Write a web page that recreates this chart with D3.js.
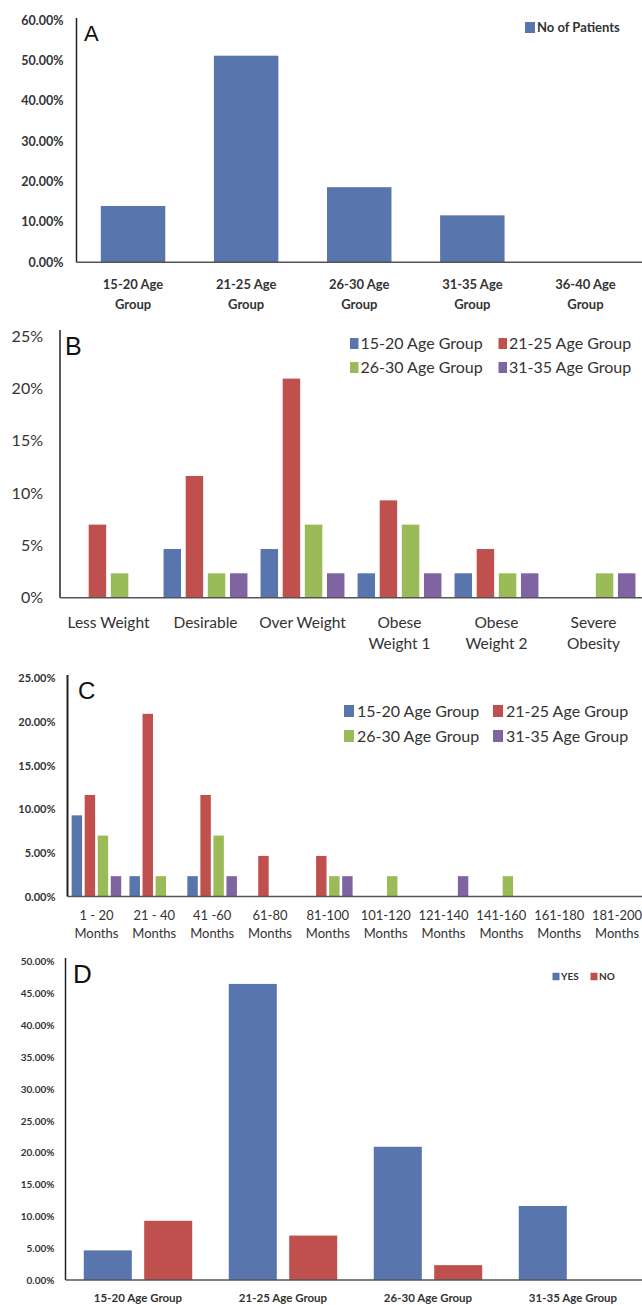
<!DOCTYPE html>
<html>
<head>
<meta charset="utf-8">
<script src="https://cdn.jsdelivr.net/npm/d3@7"></script>
<style>
  html, body { margin: 0; padding: 0; background: #fff; }
  svg { display: block; }
  text { font-family: Lato, "Open Sans", "Liberation Sans", sans-serif; fill: #333; }
  .panel-letter { font-family: "Liberation Sans", Arial, sans-serif; fill: #111; }
</style>
</head>
<body>
<svg id="chart" width="642" height="1305"></svg>
<script>
// ---- Panel A: share of patients per age group ----
const ageGroupsA = ["15-20 Age|Group", "21-25 Age|Group", "26-30 Age|Group", "31-35 Age|Group", "36-40 Age|Group"];
const patientsA = [13.95, 51.16, 18.60, 11.63, 0];
const ticksA = [0, 10, 20, 30, 40, 50, 60];

// ---- Panel B: BMI class by age group ----
const bmiClassesB = ["Less Weight", "Desirable", "Over Weight", "Obese|Weight 1", "Obese|Weight 2", "Severe|Obesity"];
const seriesNames = ["15-20 Age Group", "21-25 Age Group", "26-30 Age Group", "31-35 Age Group"];
const bmi1520 = [0, 4.65, 4.65, 2.33, 2.33, 0];
const bmi2125 = [6.98, 11.63, 20.93, 9.30, 4.65, 0];
const bmi2630 = [2.33, 2.33, 6.98, 6.98, 2.33, 2.33];
const bmi3135 = [0, 2.33, 2.33, 2.33, 2.33, 2.33];
const ticksB = [0, 5, 10, 15, 20, 25];

// ---- Panel C: duration in months by age group ----
const monthsC = ["1 - 20|Months", "21 - 40|Months", "41 -60|Months", "61-80|Months", "81-100|Months",
                 "101-120|Months", "121-140|Months", "141-160|Months", "161-180|Months", "181-200|Months"];
const dur1520 = [9.30, 2.33, 2.33, 0, 0, 0, 0, 0, 0, 0];
const dur2125 = [11.63, 20.93, 11.63, 4.65, 4.65, 0, 0, 0, 0, 0];
const dur2630 = [6.98, 2.33, 6.98, 0, 2.33, 2.33, 0, 2.33, 0, 0];
const dur3135 = [2.33, 0, 2.33, 0, 2.33, 0, 2.33, 0, 0, 0];
const ticksC = [0, 5, 10, 15, 20, 25];

// ---- Panel D: yes / no by age group ----
const ageGroupsD = ["15-20 Age Group", "21-25 Age Group", "26-30 Age Group", "31-35 Age Group"];
const yesD = [4.65, 46.51, 20.93, 11.63];
const noD = [9.30, 6.98, 2.33, 0];
const ticksD = [0, 5, 10, 15, 20, 25, 30, 35, 40, 45, 50];

const palette = ["#5875ad", "#c0504d", "#9bbb59", "#8064a2"];

const svg = d3.select("#chart");

function drawPanel(cfg) {
  const g = svg.append("g");
  const x = d3.scaleBand().domain(cfg.categories).range([cfg.x0, cfg.x1])
    .paddingInner(cfg.groupPad).paddingOuter(cfg.groupPad / 2);
  const sub = d3.scaleBand().domain(d3.range(cfg.series.length)).range([0, x.bandwidth()])
    .paddingInner(cfg.seriesPad);
  const y = d3.scaleLinear().domain([0, cfg.max]).range([cfg.yBase, cfg.yTop]);

  // bars
  cfg.series.forEach((vals, si) => {
    g.append("g").selectAll("rect")
      .data(vals.map((v, i) => ({ v, c: cfg.categories[i] })).filter(d => d.v > 0))
      .join("rect")
      .attr("x", d => x(d.c) + sub(si))
      .attr("width", sub.bandwidth())
      .attr("y", d => y(d.v))
      .attr("height", d => y(0) - y(d.v))
      .attr("fill", cfg.colors[si]);
  });

  // y axis
  const ya = g.append("g").attr("transform", `translate(${cfg.x0},0)`)
    .call(d3.axisLeft(y).tickValues(cfg.ticks).tickFormat(cfg.fmt).tickSize(0).tickPadding(cfg.yPad));
  ya.select(".domain").attr("stroke", "#222").attr("stroke-width", cfg.axisW)
    .attr("d", `M0,${cfg.axisTop}V${y(0)}`);
  ya.selectAll("text").attr("font-size", cfg.tickFont).attr("fill", cfg.tickColor)
    .attr("font-weight", cfg.tickWeight);

  // x axis
  const xa = g.append("g").attr("transform", `translate(0,${y(0)})`)
    .call(d3.axisBottom(x).tickSize(0).tickFormat(""));
  xa.select(".domain").attr("stroke", "#555").attr("stroke-width", 1.5)
    .attr("d", `M${cfg.x0},0H${cfg.xAxisEnd}`);
  xa.selectAll(".tick").each(function (d) {
    const lines = d.split("|");
    const t = d3.select(this).append("text")
      .attr("text-anchor", "middle")
      .attr("font-size", cfg.catFont)
      .attr("font-weight", cfg.catWeight)
      .attr("fill", "#3a3a3a");
    lines.forEach((ln, li) => {
      t.append("tspan").attr("x", 0).attr("y", cfg.catY + li * cfg.catLine).attr("dy", "0.35em").text(ln);
    });
  });

  // panel letter
  g.append("text").attr("class", "panel-letter")
    .attr("x", cfg.letter.x).attr("y", cfg.letter.y)
    .attr("font-size", cfg.letter.size).text(cfg.letter.text);

  // legend
  const lg = g.append("g");
  cfg.legend.items.forEach((it, i) => {
    const pos = cfg.legend.pos[i];
    lg.append("rect").attr("x", pos[0]).attr("y", pos[1] - cfg.legend.box[1] / 2)
      .attr("width", cfg.legend.box[0]).attr("height", cfg.legend.box[1])
      .attr("fill", cfg.colors[i]);
    lg.append("text").attr("x", pos[0] + cfg.legend.box[0] + cfg.legend.gap).attr("y", pos[1])
      .attr("dy", "0.35em").attr("font-size", cfg.legend.font)
      .attr("font-weight", cfg.legend.weight || "normal").attr("fill", "#222").text(it);
  });
}

const pct2 = d => d.toFixed(2) + "%";
const pct0 = d => d + "%";

drawPanel({
  categories: ageGroupsA, series: [patientsA], colors: [palette[0]],
  x0: 76.5, x1: 642, xAxisEnd: 642, groupPad: 0.43, seriesPad: 0,
  max: 60, yBase: 262.3, yTop: 20, axisTop: 18, axisW: 1.5,
  ticks: ticksA, fmt: pct2, yPad: 13, tickFont: 12.5, tickWeight: "bold", tickColor: "#55504a",
  catFont: 13, catWeight: "bold", catY: 22.5, catLine: 19.5,
  letter: { text: "A", x: 84, y: 41, size: 22 },
  legend: { items: ["No of Patients"], pos: [[525, 27.5]], box: [10, 11], gap: 2, font: 13, weight: "bold" }
});

drawPanel({
  categories: bmiClassesB, series: [bmi1520, bmi2125, bmi2630, bmi3135], colors: palette,
  x0: 60, x1: 642, xAxisEnd: 642, groupPad: 0.135, seriesPad: 0.21,
  max: 25, yBase: 597.7, yTop: 336, axisTop: 330, axisW: 1.5,
  ticks: ticksB, fmt: pct0, yPad: 17, tickFont: 16, tickWeight: "normal", tickColor: "#2a2a2a",
  catFont: 15.5, catWeight: "normal", catY: 25, catLine: 20.5,
  letter: { text: "B", x: 65, y: 355, size: 25 },
  legend: { items: seriesNames, pos: [[350, 343.5], [498.5, 343.5], [350, 367.5], [498.5, 367.5]],
            box: [8.5, 11], gap: 2, font: 16 }
});

drawPanel({
  categories: monthsC, series: [dur1520, dur2125, dur2630, dur3135], colors: palette,
  x0: 67.5, x1: 646, xAxisEnd: 642, groupPad: 0.143, seriesPad: 0.2,
  max: 25, yBase: 896.5, yTop: 678.3, axisTop: 675, axisW: 2,
  ticks: ticksC, fmt: pct2, yPad: 12, tickFont: 11, tickWeight: "bold", tickColor: "#4a4a4a",
  catFont: 13, catWeight: "normal", catY: 19.2, catLine: 17.6,
  letter: { text: "C", x: 78, y: 699, size: 24 },
  legend: { items: seriesNames, pos: [[344, 711], [493, 711], [344, 736], [493, 736]],
            box: [10, 12], gap: 3, font: 16 }
});

drawPanel({
  categories: ageGroupsD, series: [yesD, noD], colors: [palette[0], palette[1]],
  x0: 65.5, x1: 645.5, xAxisEnd: 642, groupPad: 0.252, seriesPad: 0.205,
  max: 50, yBase: 1280, yTop: 961.7, axisTop: 958, axisW: 1.5,
  ticks: ticksD, fmt: pct2, yPad: 11, tickFont: 10, tickWeight: "bold", tickColor: "#4a4a4a",
  catFont: 11.5, catWeight: "bold", catY: 17.7, catLine: 0,
  letter: { text: "D", x: 73, y: 983, size: 26 },
  legend: { items: ["YES", "NO"], pos: [[552.5, 976.5], [590.5, 976.5]], box: [7, 7.5], gap: 1.5, font: 10, weight: "bold" }
});
</script>
</body>
</html>
